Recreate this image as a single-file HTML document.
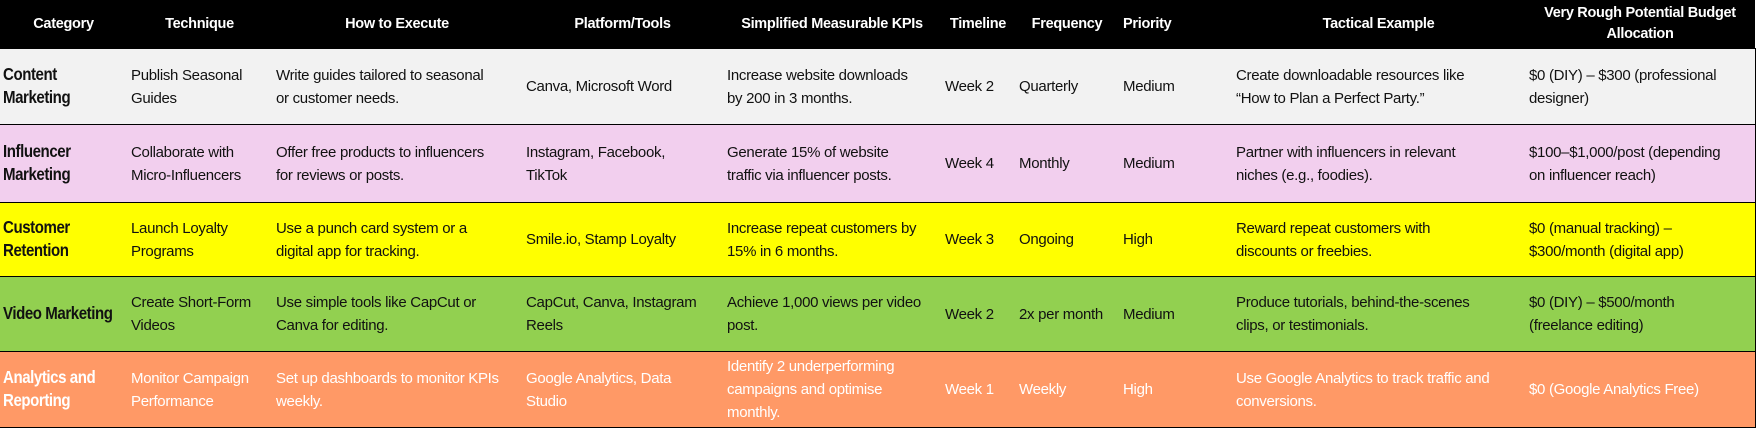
<!DOCTYPE html>
<html><head><meta charset="utf-8"><style>
html,body{margin:0;padding:0;background:#fff;}
body{width:1756px;height:429px;overflow:hidden;}
table{border-collapse:collapse;table-layout:fixed;width:1755px;font-family:"Liberation Sans",sans-serif;font-size:15px;letter-spacing:-0.3px;}
td,th{padding:0 0 0 4px;vertical-align:middle;line-height:23px;white-space:nowrap;overflow:hidden;}
th{background:#000;color:#fff;font-weight:bold;text-align:center;height:48px;font-size:14.5px;line-height:21px;padding:0;}
tr.r td{border-top:1.5px solid #000;}
td.c{padding-left:3px;}
td.c span{display:inline-block;font-weight:bold;font-size:17.5px;letter-spacing:-0.5px;transform:scaleX(0.86);transform-origin:0 50%;line-height:23px;}
.r1 td{background:#f2f2f2;color:#111;height:75px;}
.r2 td{background:#f2cfee;color:#111;height:77px;}
.r3 td{background:#ffff00;color:#111;height:73px;}
.r4 td{background:#92d050;color:#111;height:74px;}
.r5 td{background:#ff9966;color:#fff;height:75px;border-bottom:1.5px solid #000;}
tr td:last-child{border-right:1.5px solid #000;}
</style></head><body>
<table>
<colgroup><col style="width:127px"><col style="width:145px"><col style="width:250px"><col style="width:201px"><col style="width:218px"><col style="width:74px"><col style="width:104px"><col style="width:113px"><col style="width:293px"><col style="width:230px"></colgroup>
<tr><th>Category</th><th>Technique</th><th>How to Execute</th><th>Platform/Tools</th><th>Simplified Measurable KPIs</th><th>Timeline</th><th>Frequency</th><th style="text-align:left;padding-left:4px">Priority</th><th>Tactical Example</th><th>Very Rough Potential Budget<br>Allocation</th></tr>
<tr class="r r1"><td class="c"><span>Content<br>Marketing</span></td><td>Publish Seasonal<br>Guides</td><td>Write guides tailored to seasonal<br>or customer needs.</td><td>Canva, Microsoft Word</td><td>Increase website downloads<br>by 200 in 3 months.</td><td>Week 2</td><td>Quarterly</td><td>Medium</td><td>Create downloadable resources like<br>“How to Plan a Perfect Party.”</td><td>$0 (DIY) – $300 (professional<br>designer)</td></tr>
<tr class="r r2"><td class="c"><span>Influencer<br>Marketing</span></td><td>Collaborate with<br>Micro-Influencers</td><td>Offer free products to influencers<br>for reviews or posts.</td><td>Instagram, Facebook,<br>TikTok</td><td>Generate 15% of website<br>traffic via influencer posts.</td><td>Week 4</td><td>Monthly</td><td>Medium</td><td>Partner with influencers in relevant<br>niches (e.g., foodies).</td><td>$100–$1,000/post (depending<br>on influencer reach)</td></tr>
<tr class="r r3"><td class="c"><span>Customer<br>Retention</span></td><td>Launch Loyalty<br>Programs</td><td>Use a punch card system or a<br>digital app for tracking.</td><td>Smile.io, Stamp Loyalty</td><td>Increase repeat customers by<br>15% in 6 months.</td><td>Week 3</td><td>Ongoing</td><td>High</td><td>Reward repeat customers with<br>discounts or freebies.</td><td>$0 (manual tracking) –<br>$300/month (digital app)</td></tr>
<tr class="r r4"><td class="c"><span>Video Marketing</span></td><td>Create Short-Form<br>Videos</td><td>Use simple tools like CapCut or<br>Canva for editing.</td><td>CapCut, Canva, Instagram<br>Reels</td><td>Achieve 1,000 views per video<br>post.</td><td>Week 2</td><td>2x per month</td><td>Medium</td><td>Produce tutorials, behind-the-scenes<br>clips, or testimonials.</td><td>$0 (DIY) – $500/month<br>(freelance editing)</td></tr>
<tr class="r r5"><td class="c"><span>Analytics and<br>Reporting</span></td><td>Monitor Campaign<br>Performance</td><td>Set up dashboards to monitor KPIs<br>weekly.</td><td>Google Analytics, Data<br>Studio</td><td>Identify 2 underperforming<br>campaigns and optimise<br>monthly.</td><td>Week 1</td><td>Weekly</td><td>High</td><td>Use Google Analytics to track traffic and<br>conversions.</td><td>$0 (Google Analytics Free)</td></tr>
</table>
</body></html>
